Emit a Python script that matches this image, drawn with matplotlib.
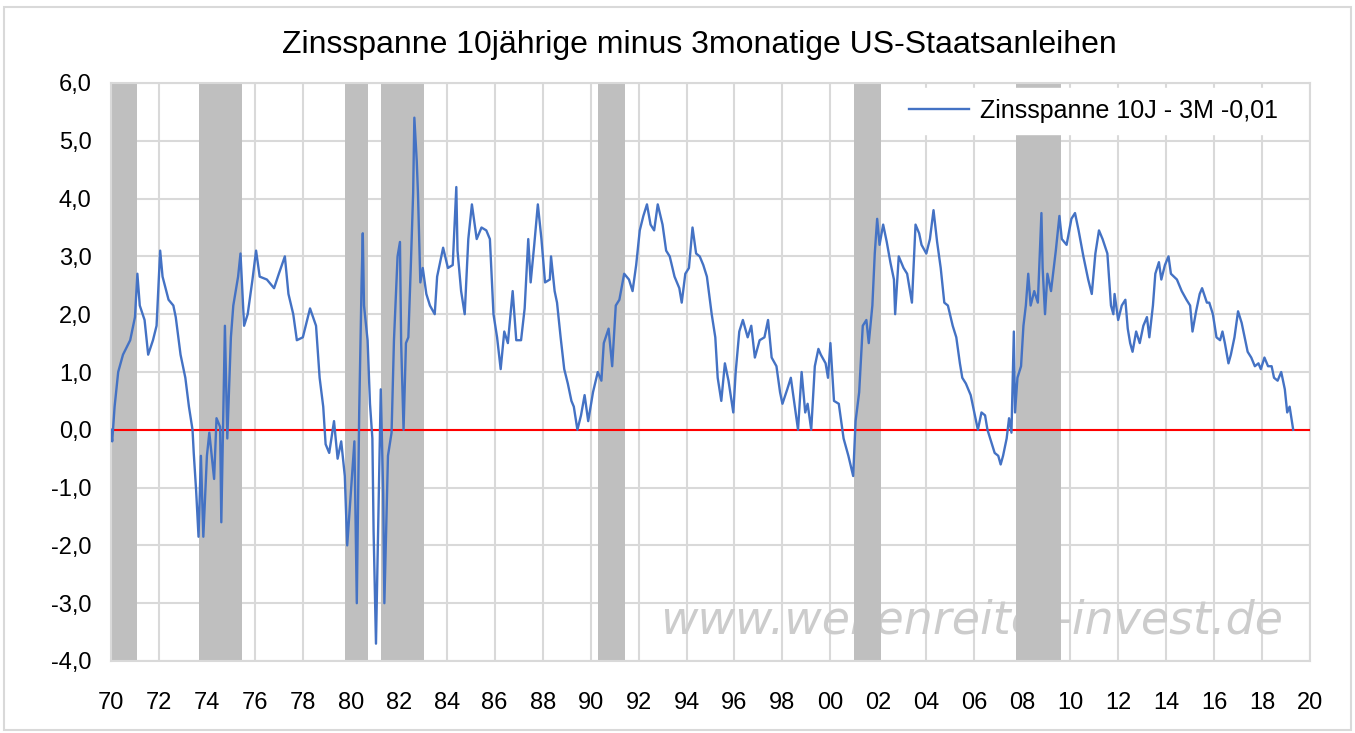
import numpy as np
import matplotlib.pyplot as plt
from matplotlib.patches import Rectangle
from matplotlib.ticker import FuncFormatter

# Zinsspanne 10J - 3M (year fraction, percentage points)
years_70s = [1970.0, 1970.05, 1970.15, 1970.3, 1970.5, 1970.8, 1971.0, 1971.1, 1971.2, 1971.4,
             1971.55, 1971.75, 1971.9, 1972.05, 1972.15, 1972.4, 1972.6, 1972.7, 1972.9, 1973.1,
             1973.25, 1973.4, 1973.45, 1973.55, 1973.65, 1973.75, 1973.85, 1974.0, 1974.1, 1974.3,
             1974.4, 1974.55, 1974.6, 1974.7, 1974.75, 1974.85, 1975.0, 1975.1, 1975.3, 1975.4,
             1975.55, 1975.7, 1975.9, 1976.05, 1976.2, 1976.5, 1976.8, 1977.0, 1977.25, 1977.4,
             1977.6, 1977.75, 1978.0, 1978.3, 1978.55, 1978.7, 1978.85, 1978.95, 1979.1, 1979.3,
             1979.45, 1979.6, 1979.75, 1979.85]
spread_70s = [0.0, -0.2, 0.4, 1.0, 1.3, 1.55, 1.95, 2.7, 2.15, 1.9,
              1.3, 1.55, 1.8, 3.1, 2.65, 2.25, 2.15, 1.95, 1.3, 0.9,
              0.4, 0.0, -0.4, -1.05, -1.85, -0.45, -1.85, -0.45, -0.05, -0.85,
              0.2, 0.05, -1.6, 0.7, 1.8, -0.15, 1.6, 2.15, 2.65, 3.05,
              1.8, 2.0, 2.6, 3.1, 2.65, 2.6, 2.45, 2.7, 3.0, 2.35,
              2.0, 1.55, 1.6, 2.1, 1.8, 0.9, 0.4, -0.25, -0.4, 0.15,
              -0.5, -0.2, -0.8, -2.0]

years_80s = [1980.0, 1980.15, 1980.25, 1980.35, 1980.45, 1980.5, 1980.55, 1980.7, 1980.8, 1980.9,
             1980.95, 1981.05, 1981.15, 1981.25, 1981.35, 1981.4, 1981.55, 1981.7, 1981.8, 1981.95,
             1982.05, 1982.1, 1982.2, 1982.3, 1982.4, 1982.5, 1982.6, 1982.65, 1982.75, 1982.8,
             1982.9, 1983.0, 1983.15, 1983.3, 1983.5, 1983.6, 1983.85, 1984.05, 1984.25, 1984.4,
             1984.45, 1984.6, 1984.75, 1984.9, 1985.05, 1985.25, 1985.45, 1985.65, 1985.8, 1985.95,
             1986.1, 1986.25, 1986.4, 1986.55, 1986.75, 1986.9, 1987.1, 1987.25, 1987.4, 1987.5,
             1987.65, 1987.8, 1987.95, 1988.1, 1988.3, 1988.35, 1988.5, 1988.6, 1988.75, 1988.9,
             1989.05, 1989.2, 1989.3, 1989.45, 1989.6, 1989.75, 1989.9]
spread_80s = [-1.1, -0.2, -3.0, 0.3, 2.55, 3.4, 2.15, 1.55, 0.45, -0.15,
              -1.75, -3.7, -1.45, 0.7, -1.1, -3.0, -0.45, -0.05, 1.55, 3.0,
              3.25, 1.5, 0.0, 1.5, 1.6, 2.8, 4.1, 5.4, 4.65, 4.1,
              2.55, 2.8, 2.35, 2.15, 2.0, 2.65, 3.15, 2.8, 2.85, 4.2,
              3.1, 2.4, 2.0, 3.3, 3.9, 3.3, 3.5, 3.45, 3.3, 2.0,
              1.6, 1.05, 1.7, 1.5, 2.4, 1.55, 1.55, 2.1, 3.3, 2.55,
              3.2, 3.9, 3.3, 2.55, 2.6, 3.0, 2.4, 2.2, 1.6, 1.05,
              0.8, 0.5, 0.4, 0.0, 0.25, 0.6, 0.15]

years_90s = [1990.1, 1990.3, 1990.45, 1990.55, 1990.75, 1990.9, 1991.05, 1991.2, 1991.4, 1991.6,
             1991.75, 1991.9, 1992.05, 1992.2, 1992.35, 1992.5, 1992.65, 1992.8, 1993.0, 1993.15,
             1993.3, 1993.5, 1993.7, 1993.8, 1993.95, 1994.1, 1994.25, 1994.4, 1994.55, 1994.7,
             1994.85, 1995.05, 1995.2, 1995.3, 1995.45, 1995.6, 1995.75, 1995.95, 1996.05, 1996.2,
             1996.35, 1996.55, 1996.7, 1996.85, 1997.05, 1997.25, 1997.4, 1997.55, 1997.75, 1997.9,
             1998.0, 1998.2, 1998.35, 1998.5, 1998.65, 1998.8, 1998.95, 1999.05, 1999.2, 1999.35,
             1999.5, 1999.6, 1999.8, 1999.9]
spread_90s = [0.65, 1.0, 0.85, 1.5, 1.75, 1.1, 2.15, 2.25, 2.7, 2.6,
              2.4, 2.85, 3.45, 3.7, 3.9, 3.55, 3.45, 3.9, 3.55, 3.1,
              3.0, 2.65, 2.45, 2.2, 2.7, 2.8, 3.5, 3.05, 3.0, 2.85,
              2.65, 2.0, 1.6, 0.9, 0.5, 1.15, 0.85, 0.3, 1.0, 1.7,
              1.9, 1.6, 1.8, 1.25, 1.55, 1.6, 1.9, 1.25, 1.1, 0.65,
              0.45, 0.7, 0.9, 0.45, 0.0, 1.0, 0.3, 0.45, 0.0, 1.1,
              1.4, 1.3, 1.15, 0.9]

years_00s = [2000.0, 2000.15, 2000.35, 2000.55, 2000.75, 2000.95, 2001.05, 2001.2, 2001.35, 2001.5,
             2001.6, 2001.75, 2001.85, 2001.95, 2002.05, 2002.2, 2002.35, 2002.5, 2002.65, 2002.7,
             2002.85, 2003.05, 2003.2, 2003.4, 2003.55, 2003.7, 2003.8, 2004.0, 2004.15, 2004.3,
             2004.45, 2004.6, 2004.75, 2004.9, 2005.1, 2005.25, 2005.4, 2005.5, 2005.65, 2005.85,
             2006.0, 2006.15, 2006.3, 2006.45, 2006.55, 2006.7, 2006.85, 2007.0, 2007.1, 2007.2,
             2007.35, 2007.45, 2007.55, 2007.65, 2007.7, 2007.8, 2007.95, 2008.05, 2008.15, 2008.25,
             2008.35, 2008.5, 2008.65, 2008.8, 2008.85, 2008.95, 2009.05, 2009.2, 2009.4, 2009.55,
             2009.65, 2009.85]
spread_00s = [1.5, 0.5, 0.45, -0.15, -0.45, -0.8, 0.15, 0.65, 1.8, 1.9,
              1.5, 2.15, 3.05, 3.65, 3.2, 3.55, 3.25, 2.9, 2.6, 2.0,
              3.0, 2.8, 2.7, 2.2, 3.55, 3.4, 3.2, 3.05, 3.3, 3.8,
              3.25, 2.8, 2.2, 2.15, 1.8, 1.6, 1.15, 0.9, 0.8, 0.6,
              0.3, 0.0, 0.3, 0.25, 0.0, -0.2, -0.4, -0.45, -0.6, -0.45,
              -0.15, 0.2, -0.05, 1.7, 0.3, 0.9, 1.1, 1.8, 2.15, 2.7,
              2.15, 2.4, 2.2, 3.75, 2.8, 2.0, 2.7, 2.4, 3.1, 3.7,
              3.3, 3.2]

years_10s = [2010.05, 2010.2, 2010.35, 2010.55, 2010.75, 2010.9, 2011.05, 2011.2, 2011.35, 2011.55,
             2011.7, 2011.8, 2011.85, 2012.0, 2012.15, 2012.3, 2012.4, 2012.5, 2012.6, 2012.75,
             2012.9, 2013.05, 2013.2, 2013.3, 2013.45, 2013.55, 2013.7, 2013.8, 2013.95, 2014.1,
             2014.2, 2014.45, 2014.65, 2014.85, 2015.0, 2015.1, 2015.25, 2015.4, 2015.5, 2015.7,
             2015.8, 2015.95, 2016.1, 2016.25, 2016.35, 2016.45, 2016.6, 2016.7, 2016.85, 2017.0,
             2017.15, 2017.3, 2017.4, 2017.55, 2017.7, 2017.85, 2017.95, 2018.1, 2018.25, 2018.4,
             2018.5, 2018.65, 2018.8, 2018.95, 2019.05, 2019.15, 2019.3]
spread_10s = [3.65, 3.75, 3.45, 3.0, 2.6, 2.35, 3.05, 3.45, 3.3, 3.05,
              2.15, 2.0, 2.35, 1.9, 2.15, 2.25, 1.75, 1.5, 1.35, 1.7,
              1.5, 1.8, 1.95, 1.6, 2.15, 2.7, 2.9, 2.6, 2.85, 3.0,
              2.7, 2.6, 2.4, 2.25, 2.15, 1.7, 2.05, 2.35, 2.45, 2.2,
              2.2, 2.0, 1.6, 1.55, 1.7, 1.5, 1.15, 1.3, 1.6, 2.05,
              1.85, 1.55, 1.35, 1.25, 1.1, 1.15, 1.05, 1.25, 1.1, 1.1,
              0.9, 0.85, 1.0, 0.7, 0.3, 0.4, 0.0]

years = years_70s + years_80s + years_90s + years_00s + years_10s
spread = spread_70s + spread_80s + spread_90s + spread_00s + spread_10s

# Rezessionen (Start, Ende)
recession_start = [1970.0, 1973.67, 1979.77, 1981.27, 1990.29, 2000.98, 2007.75]
recession_end = [1971.09, 1975.47, 1980.73, 1983.07, 1991.42, 2002.11, 2009.62]

x_ticks = list(range(1970, 2021, 2))
y_ticks = list(range(-4, 7))

sans = ['Liberation Sans', 'DejaVu Sans']

fig = plt.figure(figsize=(13.55, 7.33), dpi=100)
fig.patches.append(Rectangle((0.003, 0.004), 0.994, 0.986, transform=fig.transFigure,
                             fill=False, edgecolor='#d9d9d9', linewidth=1.5))

ax = fig.add_axes([111 / 1355, 1 - 661 / 733, (1310 - 111) / 1355, (661 - 83) / 733])

for s, e in zip(recession_start, recession_end):
    ax.axvspan(s, e, color='#bfbfbf', linewidth=0, zorder=2)

ax.text(0.9775, 0.07, 'www.wellenreiter-invest.de', transform=ax.transAxes,
        ha='right', va='center', fontsize=33, style='italic', color='#cccccc',
        family='DejaVu Sans', zorder=1)

ax.axhline(0, color='#ff0000', linewidth=1.5, zorder=3)
ax.plot(years, spread, color='#4472c4', linewidth=1.7, zorder=4,
        label='Zinsspanne 10J - 3M -0,01')

ax.set_xlim(1970, 2020)
ax.set_ylim(-4, 6)
ax.set_xticks(x_ticks)
ax.set_yticks(y_ticks)
ax.xaxis.set_major_formatter(FuncFormatter(lambda v, p: '%02d' % (int(round(v)) % 100)))
ax.yaxis.set_major_formatter(FuncFormatter(lambda v, p: ('%.1f' % v).replace('.', ',')))
ax.grid(True, color='#d9d9d9', linewidth=1.5, zorder=0)
ax.set_axisbelow(True)
ax.tick_params(length=0, labelsize=17, colors='#000000')
ax.tick_params(axis='x', pad=22)
ax.tick_params(axis='y', pad=14)
for lab in ax.get_xticklabels() + ax.get_yticklabels():
    lab.set_family(sans)
for sp in ax.spines.values():
    sp.set_color('#d9d9d9')
    sp.set_linewidth(1.5)

fig.text(699 / 1355, 1 - 45 / 733, 'Zinsspanne 10jährige minus 3monatige US-Staatsanleihen',
         ha='center', va='center', fontsize=23, family=sans, color='#000000')

leg = ax.legend(loc='upper right', bbox_to_anchor=(0.9825, 0.992),
                frameon=True, fancybox=False, borderpad=0.45, borderaxespad=0,
                handlelength=2.4, handletextpad=0.45,
                prop={'family': sans, 'size': 18})
leg.get_frame().set_edgecolor('white')
leg.get_frame().set_facecolor('white')
leg.get_frame().set_alpha(1)
leg.set_zorder(5)

fig.savefig('out.png', dpi=100)
